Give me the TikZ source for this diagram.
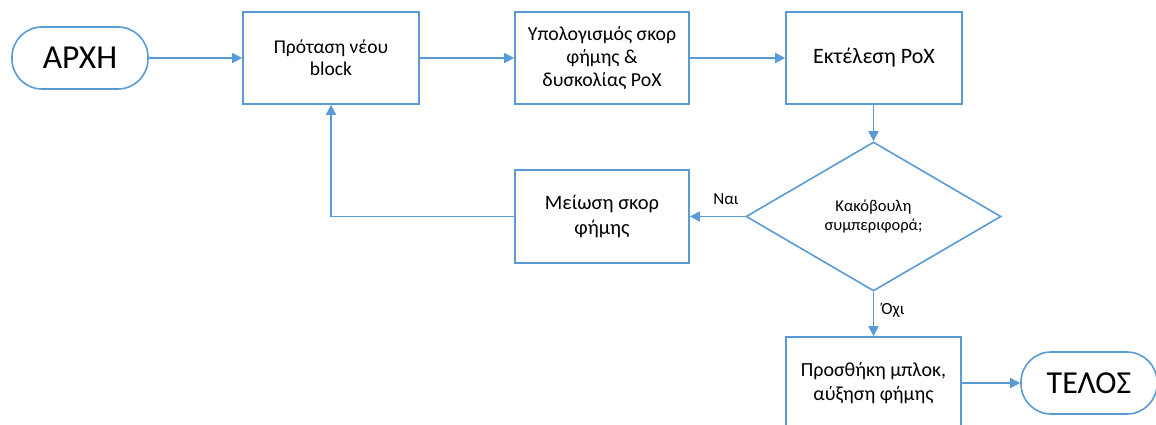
\documentclass[tikz,border=0pt]{standalone}
\usepackage{fontspec}
\setmainfont{Carlito}
\usetikzlibrary{shapes.geometric,arrows.meta}
\definecolor{flowblue}{HTML}{5B9BD5}
\begin{document}
\begin{tikzpicture}[x=1pt,y=-1pt,
  every node/.style={text=black},
  terminal/.style={draw=flowblue,line width=1.6pt,rounded corners=30pt,
    minimum width=136pt,minimum height=62pt,inner sep=0pt},
  stepbox/.style={draw=flowblue,line width=1.6pt,minimum width=176pt,
    minimum height=92pt,inner sep=0pt,align=center},
  decision/.style={draw=flowblue,line width=1.6pt,diamond,minimum width=255pt,
    minimum height=149pt,inner sep=0pt,align=center,
    font=\fontsize{16.5}{19}\selectfont},
  flow/.style={draw=flowblue,line width=1.6pt,-{Triangle[length=10pt,width=10pt]}},
  lbl/.style={font=\fontsize{17}{20}\selectfont}
]
\clip (0,0) rectangle (1156,425);

\node[terminal,font=\fontsize{33.5}{38}\selectfont] (start) at (80,58) {ΑΡΧΗ};
\node[stepbox,font=\fontsize{19.5}{22}\selectfont] (propose) at (331,58) {Πρόταση νέου\\block};
\node[stepbox,minimum width=174pt,font=\fontsize{19.8}{23}\selectfont] (score) at (602,58) {Υπολογισμός σκορ\\φήμης \&\\δυσκολίας PoX};
\node[stepbox,font=\fontsize{22}{25}\selectfont] (run) at (874,58) {Εκτέλεση PoX};
\node[decision] (check) at (873.5,216.5) {Κακόβουλη\\συμπεριφορά;};
\node[stepbox,minimum width=174pt,minimum height=93pt,font=\fontsize{20.5}{25}\selectfont] (reduce) at (602,216.5) {Μείωση σκορ\\φήμης};
\node[stepbox,minimum width=175pt,font=\fontsize{20}{24}\selectfont] (add) at (873.5,383) {Προσθήκη μπλοκ,\\αύξηση φήμης};
\node[terminal,font=\fontsize{32}{38}\selectfont] (end) at (1089,383) {ΤΕΛΟΣ};

\draw[flow] (start) -- (propose);
\draw[flow] (propose) -- (score);
\draw[flow] (score) -- (run);
\draw[flow] (run.south -| check.north) -- (check.north);
\draw[flow] (check.west) -- (reduce.east);
\draw[flow] (reduce.west) -| (propose.south);
\draw[flow] (check.south) -- (add.north);
\draw[flow] (add) -- (end);

\node[lbl] (yes) at (726,199) {Ναι};
\node[lbl] (no) at (893,310) {Όχι};
\end{tikzpicture}
\end{document}
